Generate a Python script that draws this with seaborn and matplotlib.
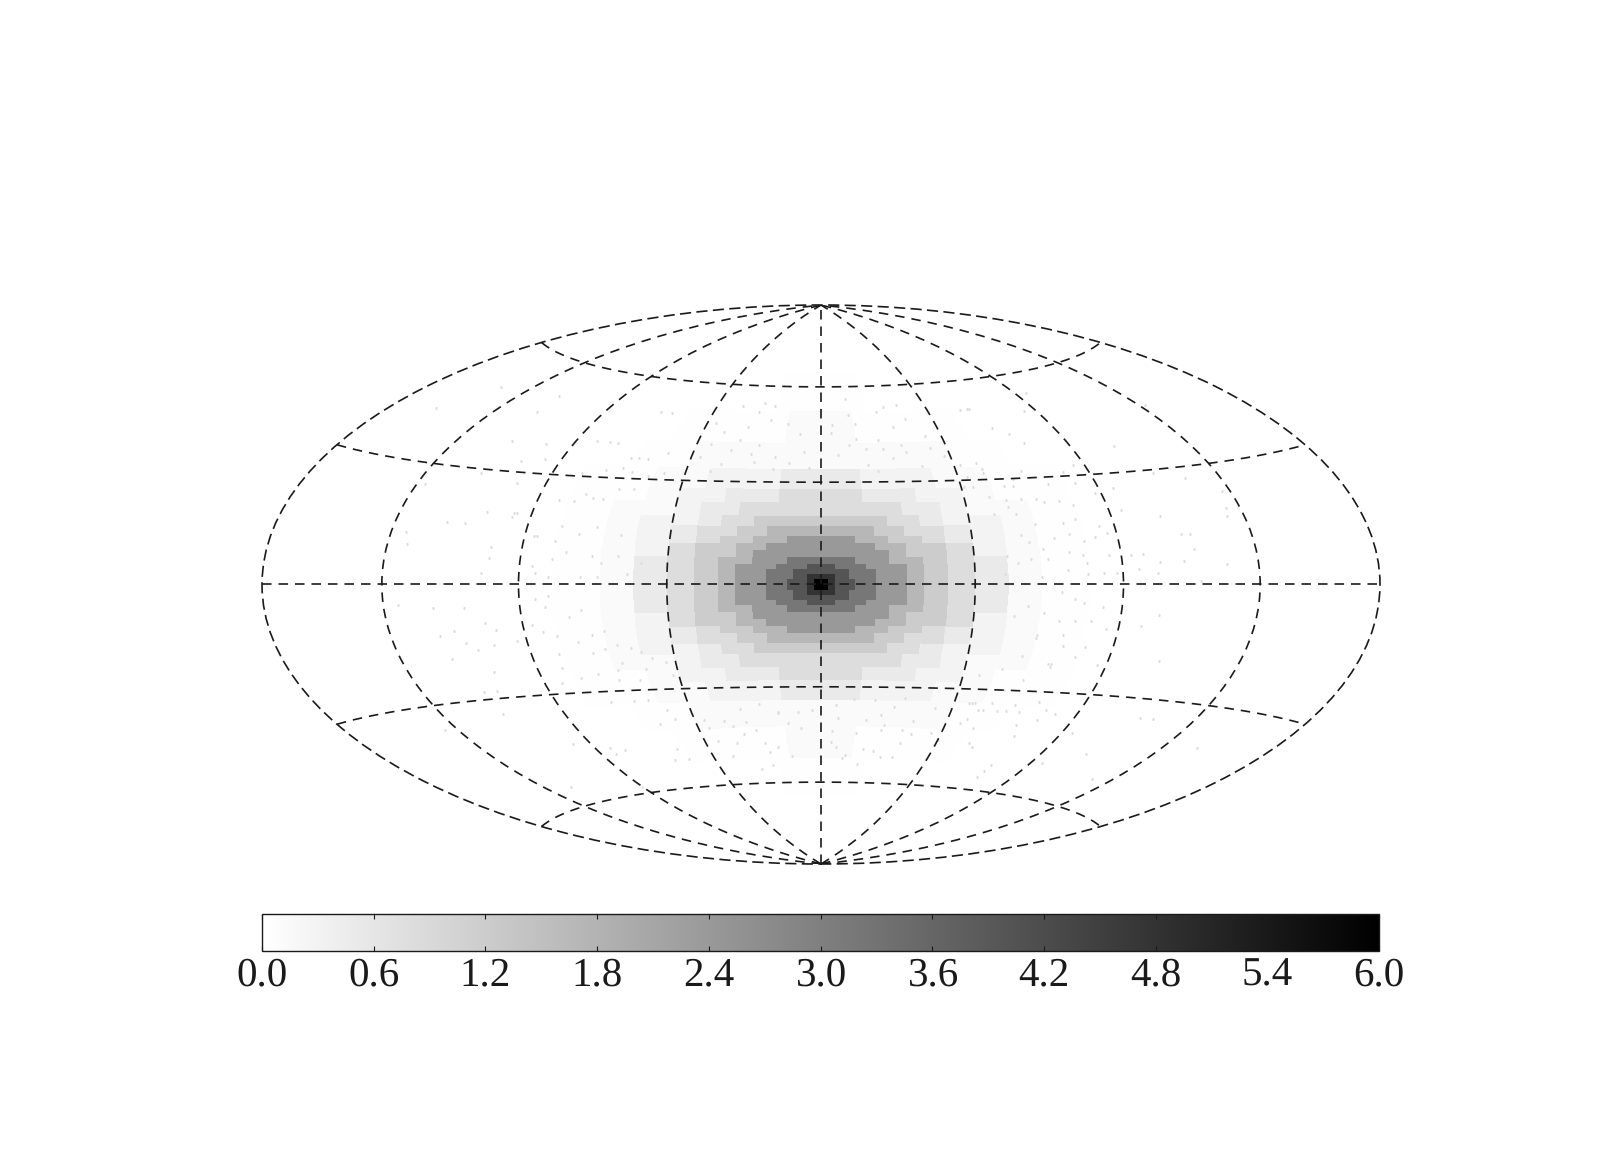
import numpy as np
import matplotlib
matplotlib.use("Agg")
import matplotlib.pyplot as plt
import seaborn as sns

sns.set_theme(style="white")
plt.rcParams["font.family"] = ["Liberation Serif", "DejaVu Serif"]
plt.rcParams["text.hinting"] = "no_hinting"
plt.rcParams["text.hinting_factor"] = 1

# cell edges of the sky map, degrees, one quadrant (map is read as mirror symmetric)
lon_edges = [0, 2, 4, 6, 8, 10, 13, 16, 20, 25, 30, 37, 45, 55, 65, 80, 100, 130, 180]
lat_edges = [0, 1.5, 3, 4.5, 6, 8, 10, 12, 14, 17, 20, 24, 28, 34, 42, 52, 65, 90]

# mean grey level in each cell
density_q = [
    [6, 4.8, 4, 4, 4, 3.2, 3.2, 2.4, 2.4, 1.7, 1.2, .8, .5, .12, .04, 0, 0, 0],
    [4.8, 4.8, 4, 4, 3.2, 3.2, 3.2, 2.4, 2.4, 1.7, 1.2, .8, .5, .12, .04, 0, 0, 0],
    [4, 4, 4, 4, 3.2, 3.2, 3.2, 2.4, 2.4, 1.7, 1.2, .8, .5, .12, .04, 0, 0, 0],
    [4, 4, 3.2, 3.2, 3.2, 3.2, 2.4, 2.4, 2.4, 1.7, 1.2, .8, .5, .12, .04, 0, 0, 0],
    [3.2, 3.2, 3.2, 3.2, 3.2, 2.4, 2.4, 2.4, 1.7, 1.7, 1.2, .8, .5, .12, .04, 0, 0, 0],
    [2.4, 2.4, 2.4, 2.4, 2.4, 2.4, 2.4, 2.4, 1.7, 1.2, 1.2, .8, .3, .12, .04, 0, 0, 0],
    [2.4, 2.4, 2.4, 2.4, 2.4, 2.4, 2.4, 1.7, 1.7, 1.2, 1.2, .8, .3, .12, .04, 0, 0, 0],
    [2.4, 2.4, 2.4, 2.4, 2.4, 1.7, 1.7, 1.7, 1.2, 1.2, .8, .5, .3, .12, .04, 0, 0, 0],
    [1.7, 1.7, 1.7, 1.7, 1.7, 1.7, 1.7, 1.2, 1.2, .8, .8, .5, .3, .12, .04, 0, 0, 0],
    [1.2, 1.2, 1.2, 1.2, 1.2, 1.2, 1.2, 1.2, .8, .8, .5, .3, .3, .12, .04, 0, 0, 0],
    [.8, .8, .8, .8, .8, .8, .8, .8, .8, .5, .5, .3, .12, .12, .04, 0, 0, 0],
    [.8, .8, .8, .8, .8, .8, .5, .5, .5, .5, .3, .3, .12, .04, .04, 0, 0, 0],
    [.5, .5, .5, .5, .5, .5, .3, .3, .3, .3, .3, .12, .12, .04, .04, 0, 0, 0],
    [.12, .12, .12, .12, .12, .12, .12, .12, .12, .12, .12, .12, .04, .04, 0, 0, 0, 0],
    [.12, .12, .12, .12, .12, .12, .04, .04, .04, .04, .04, .04, .04, 0, 0, 0, 0, 0],
    [.04, .04, .04, .04, .04, .04, .04, .04, 0, 0, 0, 0, 0, 0, 0, 0, 0, 0],
    [0, 0, 0, 0, 0, 0, 0, 0, 0, 0, 0, 0, 0, 0, 0, 0, 0, 0],
]

# single occupied cells outside the bulge, (lon, lat) in degrees
speckle_lonlat = [
    # upper left
    (-149, 50), (-160, 42), (-118, 51), (-117, 46), (-67, 50), (-114, 38), (-100, 38), (-96, 34),
    (-104, 33), (-82, 40), (-77, 40), (-74, 40), (-66, 36), (-63, 36), (-60, 36), (-54, 38),
    (-80, 31), (-72, 32), (-67, 33), (-63, 32), (-57, 31), (-52, 32), (-115, 29), (-100, 27),
    (-132, 25), (-105, 19), (-96, 19), (-95, 19), (-96, 18), (-117, 16), (-111, 16), (-130, 13),
    (-128, 10), (-100, 10), (-100, 7), (-102, 3), (-87, 13), (-86, 13), (-86, 5), (-85, 3),
    (-79, 16), (-83, 23), (-78, 23), (-75, 25), (-72, 24), (-65, 27), (-69, 24), (-60, 27),
    (-80, 12), (-80, 7), (-76, 9), (-73, 14), (-68, 16), (-60, 14), (-68, 8), (-66, 2),
    (-65, 6), (-60, 8), (-71, 2), (-81, 2), (-53, 6), (-57, 3),
    # lower left
    (-118, -6), (-108, -6), (-130, -5), (-118, -13), (-113, -12), (-102, -10), (-99, -12),
    (-110, -15), (-107, -17), (-101, -16), (-117, -19), (-105, -23), (-93, -15), (-113, -28),
    (-108, -28), (-112, -34), (-140, -36), (-97, -44), (-84, -46), (-84, -48), (-123, -55),
    (-90, -58), (-82, -6), (-81, -3), (-85, -4), (-87, -11), (-84, -13), (-80, -14), (-75, -9),
    (-71, -7), (-69, -14), (-65, -13), (-74, -16), (-70, -19), (-66, -18), (-81, -19), (-82, -23),
    (-77, -26), (-71, -25), (-64, -24), (-65, -27), (-58, -27), (-55, -24), (-84, -27), (-71, -33),
    (-63, -33), (-58, -33), (-53, -36), (-58, -40), (-52, -39), (-79, -47), (-62, -51), (-62, -17),
    (-58, -18), (-55, -19), (-52, -21), (-62, -22), (-48, -22), (-47, -26),
    # upper right
    (62, 51), (66, 45), (71, 43), (74, 40), (106, 37), (95, 54), (85, 49), (53, 35), (54, 33),
    (54, 32), (48, 31), (67, 32), (63, 30), (81, 31), (86, 33), (138, 46), (112, 29), (122, 27),
    (132, 23), (130, 19), (129, 17), (106, 18), (111, 13), (114, 13), (114, 9), (97, 8), (93, 8),
    (102, 6), (110, 6), (124, 5), (101, 3), (115, 1), (46, 28), (49, 28), (59, 28), (62, 28),
    (83, 28), (74, 28), (53, 25), (58, 24), (63, 24), (68, 24), (70, 23), (75, 23), (79, 22),
    (88, 25), (95, 26), (94, 20), (58, 22), (53, 20), (60, 20), (65, 17), (74, 17), (78, 18),
    (85, 16), (60, 14), (70, 13), (75, 14), (87, 14), (83, 13), (79, 12), (62, 12), (66, 10),
    (67, 7), (74, 9), (78, 8), (86, 8), (79, 6), (62, 7), (73, 4), (79, 3), (84, 3), (88, 3),
    (95, 4), (54, 3), (65, 2), (58, 6), (55, 8),
    # lower right
    (102, -8), (97, -11), (107, -20), (114, -35), (119, -35), (149, -40), (126, -52), (108, -46),
    (94, -41), (95, -50), (74, -52), (74, -54), (74, -56), (60, -47), (58, -46), (52, -39),
    (50, -40), (54, -36), (56, -36), (61, -36), (64, -36), (69, -36), (71, -40), (77, -38),
    (73, -43), (58, -34), (51, -34), (52, -34), (74, -33), (78, -35), (82, -36), (78, -5),
    (84, -6), (81, -10), (76, -10), (86, -12), (81, -17), (87, -22), (79, -20), (73, -14),
    (72, -22), (72, -23), (71, -22), (65, -14), (65, -15), (74, -17), (62, -20), (57, -24),
    (50, -26), (65, -27), (60, -30), (66, -34), (75, -4), (71, -2), (71, -10), (66, -8),
    (61, -6), (57, -9),
    # above the bulge
    (-41.5, 47.6), (-34, 53.3), (-26, 51.6), (-20, 53.5), (-25, 54.5), (-13, 48), (-20, 49),
    (-28.5, 46.7), (-30, 42.7), (-37, 45), (-40, 41), (-42, 37), (-32, 39.3), (-22.5, 41.3),
    (-24.5, 38.3), (-16, 37.4), (-8, 44.7), (-6, 39.3), (-11, 35.9), (-23, 36), (-34, 35),
    (-16, 34), (-37, 33), (-4, 34.4), (4.5, 47.6), (11, 50.6), (23, 51.6), (27, 53), (13.6, 48),
    (11, 56), (33, 53.5), (34, 49), (28, 46.7), (13, 43), (3.6, 45), (21, 42.7), (29, 41),
    (39, 43.7), (22, 40), (16, 40), (10, 41.3), (30, 38.8), (39, 40), (25, 37), (16, 35),
    (6, 38.3), (43, 37.4), (34, 34.4), (19, 33.4), (47, 34.4), (63, 51), (59, 51), (-62, 50),
    # below the bulge
    (-41.6, -39.5), (-34.5, -40), (-32, -41.5), (-29, -44), (-24, -43), (-40, -46), (-33, -47),
    (-22, -47), (-17, -48.5), (-12, -51.5), (-21, -50), (-27, -55.5), (-21, -54), (-37, -51),
    (-7.5, -42.5), (-12, -41), (-15, -37.5), (-15, -38), (-28, -36.5), (-21, -35), (-8, -37.5),
    (-3, -37), (-27, -40.5), (-41, -42), (4, -43.5), (13, -44), (22, -43), (30, -43), (41, -43.5),
    (45, -45.5), (4, -47), (10, -51), (6, -48.5), (17, -49), (25, -51.5), (30, -51.5), (31, -47),
    (34, -44), (23, -41.5), (16, -40), (21, -38.5), (33, -40), (39, -36), (25, -36), (6, -39.5),
    (5, -35.5), (11, -33.5), (18, -34), (28, -33), (-56, -51), (-58, -48), (9, -52), (16, -54),
    (21, -49.5), (56, -41.5), (50, -34),
]
speckle_level = 0.8
cbar_ticks = [0.0, 0.6, 1.2, 1.8, 2.4, 3.0, 3.6, 4.2, 4.8, 5.4, 6.0]

q = np.array(density_q)
density = np.block([[q[::-1, ::-1], q[::-1, :]], [q[:, ::-1], q]])
lon = np.radians(np.r_[-np.array(lon_edges[:0:-1]), lon_edges])
lat = np.radians(np.r_[-np.array(lat_edges[:0:-1]), lat_edges])
dots = np.radians(np.array(speckle_lonlat))

W, H = 1600, 1172
fig = plt.figure(figsize=(W / 100, H / 100), dpi=100)
ax = fig.add_axes([262 / W, 1 - 864 / H, 1118 / W, 559 / H], projection="hammer")

cmap = sns.color_palette("gray_r", as_cmap=True)
mesh = ax.pcolormesh(lon, lat, density, cmap=cmap, vmin=0, vmax=6, shading="flat", zorder=1)
sc = ax.scatter(dots[:, 0], dots[:, 1], color=cmap(speckle_level / 6), marker="s", s=2.4,
                linewidths=0, zorder=2)
sc.set_snap(False)

dash = (0, (5.7, 4.2))
ax.set_longitude_grid(45)
ax.set_latitude_grid(30)
ax.set_longitude_grid_ends(90)
ax.grid(True, color="k", linestyle=dash, linewidth=1.2)
ax.set_axisbelow(False)
ax.set_xticklabels([])
ax.set_yticklabels([])
ax.spines["geo"].set_linestyle(dash)
ax.spines["geo"].set_linewidth(1.2)
ax.spines["geo"].set_edgecolor("k")

cax = fig.add_axes([262 / W, 1 - 951 / H, 1117 / W, 37 / H])
cb = fig.colorbar(mesh, cax=cax, orientation="horizontal", ticks=cbar_ticks)
cb.ax.set_axisbelow(False)  # seaborn puts ticks under the solids otherwise
cb.ax.set_xticklabels(["%.1f" % t for t in cbar_ticks], color="k")
cb.ax.tick_params(axis="x", which="major", direction="in", top=True, bottom=True,
                  length=3.6, width=0.8, color="k", labelsize=29.5, pad=4, labelcolor="k")
cb.outline.set_edgecolor("k")
cb.outline.set_linewidth(1)

plt.savefig("out.png", dpi=100)
